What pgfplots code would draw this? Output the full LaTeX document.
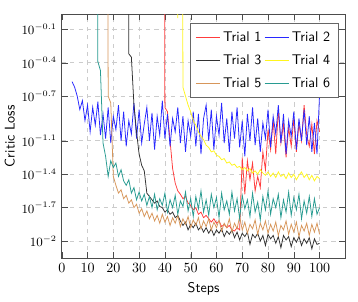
\documentclass[border=0pt]{standalone}
\usepackage{pgfplots}
\pgfplotsset{compat=1.18}
\definecolor{cRed}{RGB}{255,60,60}
\definecolor{cBlue}{RGB}{40,40,255}
\definecolor{cBlack}{RGB}{50,50,50}
\definecolor{cYellow}{RGB}{255,245,30}
\definecolor{cOrange}{RGB}{215,150,90}
\definecolor{cTeal}{RGB}{40,155,145}
\begin{document}
\begin{tikzpicture}
\useasboundingbox (-44pt,-31pt) rectangle (211pt,184pt);
\begin{axis}[
 at={(0,0)}, anchor=south west,
 scale only axis, width=202pt, height=174pt,
 xmin=0, xmax=110, ymin=-2.155, ymax=0.037,
 xtick={0,10,...,100},
 ytick={-2,-1.7,-1.4,-1.1,-0.7,-0.4,-0.1},
 yticklabels={$10^{-2}$,$10^{-1.7}$,$10^{-1.4}$,$10^{-1.1}$,$10^{-0.7}$,$10^{-0.4}$,$10^{-0.1}$},
 yticklabel style={font=\small},
 grid=major, grid style={dashed, gray!40},
 xlabel={Steps}, ylabel={Critic Loss},
 label style={font=\sffamily},
 ylabel style={yshift=-2pt},
 legend style={font=\sffamily, at={(0.975,0.962)}, anchor=north east, draw=black!60, row sep=4pt, inner sep=3.5pt},
 legend columns=2,
 legend cell align=left,
 legend image post style={line width=0.6pt},
 no markers,
 every axis plot/.append style={line width=0.55pt},
 axis line style={black!70},
 tick style={black!70},
]
% Trial 1
\addplot[cRed] coordinates {(39,10)(40,-0.80)(41,-0.84)(42,-1.10)(43,-1.35)(44,-1.48)(45,-1.55)(46,-1.58)(47,-1.62)(48,-1.60)(49,-1.66)(50,-1.68)(51,-1.72)(52,-1.70)(53,-1.76)(54,-1.74)(55,-1.79)(56,-1.77)(57,-1.80)(58,-1.83)(59,-1.80)(60,-1.84)(61,-1.82)(62,-1.87)(63,-1.85)(64,-1.88)(65,-1.86)(66,-1.90)(67,-1.91)(68,-1.88)(69,-1.90)(70,-1.25)(71,-1.58)(72,-1.28)(73,-1.45)(74,-1.30)(75,-1.55)(76,-1.42)(77,-1.52)(78,-1.20)(79,-1.36)(80,-1.00)(81,-1.18)(82,-0.92)(83,-1.22)(84,-0.82)(85,-1.12)(86,-0.95)(87,-1.25)(88,-0.98)(89,-1.15)(90,-0.90)(91,-1.20)(92,-0.95)(93,-1.10)(94,-0.78)(95,-1.05)(96,-1.15)(97,-0.95)(98,-1.22)(99,-0.92)(100,-1.02)};
\addlegendentry{Trial 1}
% Trial 2
\addplot[cBlue] coordinates {(4,-0.57)(5,-0.62)(6,-0.70)(7,-0.82)(8,-0.74)(9,-0.92)(10,-0.78)(11,-1.02)(12,-0.80)(13,-0.96)(14,-0.75)(15,-1.05)(16,-0.86)(17,-1.08)(18,-0.80)(19,-1.12)(20,-0.88)(21,-1.00)(22,-0.78)(23,-1.10)(24,-0.84)(25,-1.15)(26,-0.92)(27,-1.04)(28,-0.76)(29,-1.08)(30,-0.82)(31,-1.12)(32,-0.95)(33,-0.80)(34,-1.10)(35,-0.85)(36,-1.18)(37,-0.88)(38,-1.05)(39,-0.74)(40,-1.08)(41,-0.86)(42,-1.15)(43,-0.90)(44,-1.02)(45,-0.80)(46,-1.12)(47,-0.88)(48,-1.20)(49,-0.92)(50,-1.06)(51,-0.84)(52,-1.15)(53,-0.86)(54,-1.22)(55,-0.90)(56,-0.78)(57,-1.10)(58,-0.82)(59,-1.18)(60,-0.88)(61,-1.05)(62,-0.76)(63,-1.12)(64,-0.90)(65,-1.20)(66,-0.84)(67,-1.08)(68,-0.80)(69,-1.16)(70,-0.92)(71,-1.24)(72,-0.86)(73,-1.10)(74,-0.80)(75,-1.14)(76,-0.90)(77,-1.20)(78,-0.94)(79,-1.08)(80,-0.82)(81,-1.16)(82,-0.88)(83,-1.04)(84,-0.78)(85,-1.12)(86,-0.86)(87,-1.22)(88,-0.92)(89,-1.06)(90,-0.84)(91,-1.18)(92,-0.90)(93,-1.10)(94,-0.82)(95,-1.14)(96,-0.88)(97,-1.20)(98,-0.94)(99,-1.22)(100,-0.68)};
\addlegendentry{Trial 2}
% Trial 3
\addplot[cBlack] coordinates {(25,10)(26,-0.32)(27,-0.35)(28,-0.78)(29,-1.02)(30,-1.22)(31,-1.32)(32,-1.37)(33,-1.57)(34,-1.60)(35,-1.63)(36,-1.66)(37,-1.64)(38,-1.69)(39,-1.70)(40,-1.74)(41,-1.72)(42,-1.76)(43,-1.74)(44,-1.79)(45,-1.77)(46,-1.82)(47,-1.86)(48,-1.83)(49,-1.90)(50,-1.85)(51,-1.88)(52,-1.84)(53,-1.90)(54,-1.87)(55,-1.92)(56,-1.88)(57,-1.93)(58,-1.89)(59,-1.95)(60,-1.90)(61,-1.93)(62,-1.89)(63,-1.96)(64,-1.91)(65,-1.94)(66,-1.90)(67,-1.97)(68,-1.92)(69,-1.99)(70,-1.93)(71,-1.96)(72,-1.92)(73,-2.03)(74,-1.94)(75,-1.97)(76,-1.93)(77,-2.00)(78,-1.95)(79,-2.04)(80,-1.94)(81,-1.98)(82,-1.95)(83,-2.02)(84,-1.96)(85,-2.06)(86,-1.95)(87,-1.99)(88,-1.96)(89,-2.05)(90,-1.97)(91,-2.01)(92,-1.96)(93,-2.04)(94,-1.98)(95,-2.02)(96,-1.97)(97,-2.07)(98,-1.98)(99,-2.03)(100,-2.02)};
\addlegendentry{Trial 3}
% Trial 4
\addplot[cYellow] coordinates {(44,10)(45,0.00)(46,10)(47,-0.62)(48,-0.70)(49,-0.78)(50,-0.84)(51,-0.92)(52,-0.96)(53,-1.02)(54,-1.06)(55,-1.09)(56,-1.14)(57,-1.16)(58,-1.20)(59,-1.19)(60,-1.23)(61,-1.24)(62,-1.27)(63,-1.26)(64,-1.30)(65,-1.29)(66,-1.32)(67,-1.31)(68,-1.34)(69,-1.33)(70,-1.36)(71,-1.34)(72,-1.37)(73,-1.35)(74,-1.39)(75,-1.37)(76,-1.40)(77,-1.36)(78,-1.39)(79,-1.41)(80,-1.38)(81,-1.42)(82,-1.39)(83,-1.43)(84,-1.38)(85,-1.42)(86,-1.40)(87,-1.44)(88,-1.39)(89,-1.43)(90,-1.40)(91,-1.45)(92,-1.41)(93,-1.38)(94,-1.43)(95,-1.40)(96,-1.45)(97,-1.41)(98,-1.46)(99,-1.42)(100,-1.44)};
\addlegendentry{Trial 4}
% Trial 5
\addplot[cOrange] coordinates {(17,10)(18,-0.70)(19,-0.76)(20,-1.42)(21,-1.50)(22,-1.57)(23,-1.54)(24,-1.62)(25,-1.59)(26,-1.66)(27,-1.63)(28,-1.70)(29,-1.67)(30,-1.75)(31,-1.71)(32,-1.78)(33,-1.73)(34,-1.80)(35,-1.75)(36,-1.82)(37,-1.77)(38,-1.84)(39,-1.76)(40,-1.83)(41,-1.78)(42,-1.86)(43,-1.79)(44,-1.84)(45,-1.77)(46,-1.87)(47,-1.80)(48,-1.85)(49,-1.78)(50,-1.88)(51,-1.81)(52,-1.86)(53,-1.79)(54,-1.89)(55,-1.82)(56,-1.87)(57,-1.80)(58,-1.90)(59,-1.83)(60,-1.88)(61,-1.81)(62,-1.91)(63,-1.84)(64,-1.88)(65,-1.80)(66,-1.92)(67,-1.84)(68,-1.89)(69,-1.78)(70,-1.90)(71,-1.83)(72,-1.93)(73,-1.85)(74,-1.89)(75,-1.81)(76,-1.94)(77,-1.84)(78,-1.90)(79,-1.82)(80,-1.93)(81,-1.85)(82,-1.91)(83,-1.83)(84,-1.95)(85,-1.86)(86,-1.90)(87,-1.82)(88,-1.94)(89,-1.85)(90,-1.92)(91,-1.83)(92,-1.96)(93,-1.86)(94,-1.91)(95,-1.84)(96,-1.95)(97,-1.85)(98,-1.92)(99,-1.84)(100,-1.94)};
\addlegendentry{Trial 5}
% Trial 6
\addplot[cTeal] coordinates {(13,10)(14,-0.39)(15,-0.47)(16,-1.12)(17,-1.24)(18,-1.42)(19,-1.28)(20,-1.34)(21,-1.30)(22,-1.42)(23,-1.36)(24,-1.46)(25,-1.50)(26,-1.45)(27,-1.57)(28,-1.52)(29,-1.63)(30,-1.56)(31,-1.64)(32,-1.58)(33,-1.68)(34,-1.60)(35,-1.70)(36,-1.58)(37,-1.72)(38,-1.62)(39,-1.68)(40,-1.57)(41,-1.74)(42,-1.63)(43,-1.70)(44,-1.59)(45,-1.76)(46,-1.64)(47,-1.69)(48,-1.56)(49,-1.73)(50,-1.62)(51,-1.78)(52,-1.60)(53,-1.71)(54,-1.55)(55,-1.74)(56,-1.63)(57,-1.77)(58,-1.58)(59,-1.70)(60,-1.61)(61,-1.79)(62,-1.57)(63,-1.72)(64,-1.64)(65,-1.76)(66,-1.56)(67,-1.73)(68,-1.62)(69,-1.80)(70,-1.59)(71,-1.71)(72,-1.63)(73,-1.78)(74,-1.57)(75,-1.74)(76,-1.65)(77,-1.81)(78,-1.60)(79,-1.72)(80,-1.55)(81,-1.76)(82,-1.62)(83,-1.70)(84,-1.58)(85,-1.79)(86,-1.63)(87,-1.74)(88,-1.56)(89,-1.77)(90,-1.61)(91,-1.72)(92,-1.58)(93,-1.80)(94,-1.64)(95,-1.75)(96,-1.60)(97,-1.78)(98,-1.62)(99,-1.76)(100,-1.70)};
\addlegendentry{Trial 6}
\end{axis}
\end{tikzpicture}
\end{document}
